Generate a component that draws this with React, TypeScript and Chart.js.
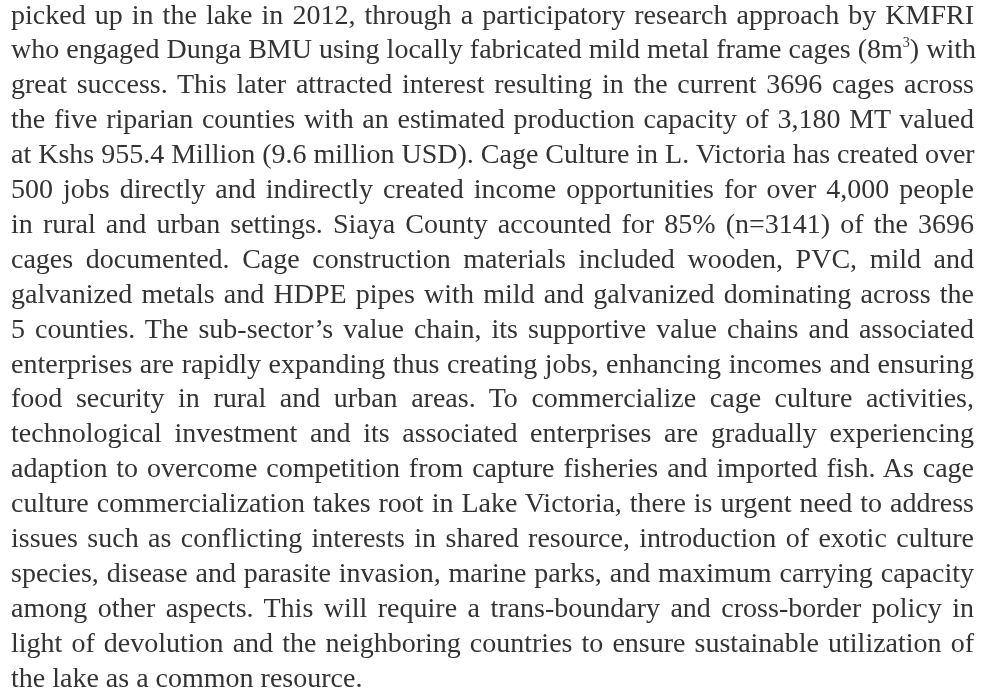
import React, { useEffect, useRef } from "react";
import { Chart, registerables } from "chart.js";

Chart.register(...registerables);

// Text lines of the reference (one entry per printed line). "^3" marks a superscript 3.
const lines: string[] = [
  "picked up in the lake in 2012, through a participatory research approach by KMFRI",
  "who engaged Dunga BMU using locally fabricated mild metal frame cages (8m^3) with",
  "great success. This later attracted interest resulting in the current 3696 cages across",
  "the five riparian counties with an estimated production capacity of 3,180 MT valued",
  "at Kshs 955.4 Million (9.6 million USD). Cage Culture in L. Victoria has created over",
  "500 jobs directly and indirectly created income opportunities for over 4,000 people",
  "in rural and urban settings. Siaya County accounted for 85% (n=3141) of the 3696",
  "cages documented. Cage construction materials included wooden, PVC, mild and",
  "galvanized metals and HDPE pipes with mild and galvanized dominating across the",
  "5 counties. The sub-sector\u2019s value chain, its supportive value chains and associated",
  "enterprises are rapidly expanding thus creating jobs, enhancing incomes and ensuring",
  "food security in rural and urban areas. To commercialize cage culture activities,",
  "technological investment and its associated enterprises are gradually experiencing",
  "adaption to overcome competition from capture fisheries and imported fish. As cage",
  "culture commercialization takes root in Lake Victoria, there is urgent need to address",
  "issues such as conflicting interests in shared resource, introduction of exotic culture",
  "species, disease and parasite invasion, marine parks, and maximum carrying capacity",
  "among other aspects. This will require a trans-boundary and cross-border policy in",
  "light of devolution and the neighboring countries to ensure sustainable utilization of",
  "the lake as a common resource.",
];

const FONT = "'Liberation Serif', 'Times New Roman', serif";
const FONT_SIZE = 28;
const LINE_H = 34.9;
const LEFT = 11;
const TOP = -2.5;
const WIDTH = 963;

function renderLine(text: string) {
  const parts = text.split("^3");
  if (parts.length === 1) return text;
  return (
    <>
      {parts[0]}
      <sup style={{ fontSize: "0.5em", verticalAlign: "0", position: "relative", top: "-0.85em" }}>3</sup>
      {parts[1]}
    </>
  );
}

export default function App() {
  const canvasRef = useRef<HTMLCanvasElement | null>(null);

  useEffect(() => {
    if (!canvasRef.current) return;
    const chart = new Chart(canvasRef.current, {
      type: "bar",
      data: { labels: [], datasets: [] },
      options: {
        animation: false,
        responsive: false,
        events: [],
        plugins: { legend: { display: false }, tooltip: { enabled: false } },
        scales: { x: { display: false }, y: { display: false } },
      },
    });
    return () => chart.destroy();
  }, []);

  return (
    <div
      style={{
        position: "fixed",
        left: 0,
        top: 0,
        width: 984,
        height: 691,
        background: "#ffffff",
        overflow: "hidden",
      }}
    >
      <canvas
        ref={canvasRef}
        width={984}
        height={691}
        style={{ position: "absolute", left: 0, top: 0, width: 984, height: 691 }}
      />
      {lines.map((t, i) => {
        const last = i === lines.length - 1;
        return (
          <div
            key={i}
            style={{
              position: "absolute",
              left: LEFT,
              top: TOP + i * LINE_H,
              width: WIDTH,
              fontFamily: FONT,
              fontSize: FONT_SIZE,
              lineHeight: `${LINE_H}px`,
              color: "#333333",
              whiteSpace: "nowrap",
              textAlign: last ? "left" : "justify",
              textAlignLast: last ? "left" : "justify",
            }}
          >
            {renderLine(t)}
          </div>
        );
      })}
    </div>
  );
}
